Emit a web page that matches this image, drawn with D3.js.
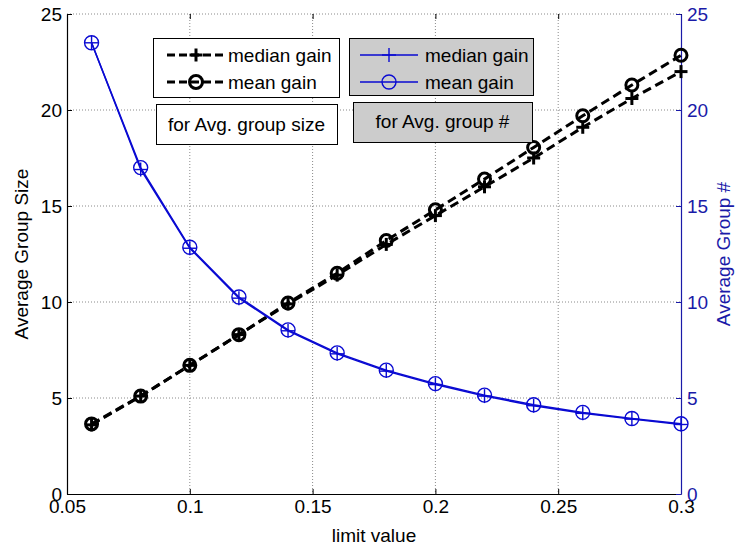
<!DOCTYPE html>
<html>
<head>
<meta charset="utf-8">
<script src="https://cdn.jsdelivr.net/npm/d3@7"></script>
<style>
  html, body { margin: 0; padding: 0; background: #fff; }
  svg text { font-family: "Liberation Sans", Arial, sans-serif; }
</style>
</head>
<body>
<svg id="chart" width="735" height="549"></svg>
<script>
// limit values on the x axis
const limits = [0.06, 0.08, 0.10, 0.12, 0.14, 0.16, 0.18, 0.20, 0.22, 0.24, 0.26, 0.28, 0.30];
// average group size (left axis)
const sizeMedian = [3.6, 5.1, 6.7, 8.3, 9.9, 11.4, 13.0, 14.5, 16.0, 17.5, 19.1, 20.6, 22.0];
const sizeMean   = [3.65, 5.1, 6.7, 8.3, 9.95, 11.5, 13.2, 14.8, 16.4, 18.05, 19.7, 21.3, 22.85];
// average group count (right axis)
const countMedian = [23.5, 16.9, 12.8, 10.2, 8.5, 7.3, 6.4, 5.7, 5.1, 4.6, 4.2, 3.9, 3.62];
const countMean   = [23.5, 17.0, 12.85, 10.26, 8.55, 7.35, 6.45, 5.75, 5.15, 4.65, 4.25, 3.93, 3.66];
// tick labels
const xTicks = [0.05, 0.1, 0.15, 0.2, 0.25, 0.3];
const xTickLabels = ["0.05", "0.1", "0.15", "0.2", "0.25", "0.3"];
const yTicks = [0, 5, 10, 15, 20, 25];
const legendLabels = ["median gain", "mean gain"];
const noteLeft = "for Avg. group size";
const noteRight = "for Avg. group #";

const BLUE = "#0a0ad2";
const AXIS_BLUE = "#1a1aa8";
const FONT = 19;

const svg = d3.select("#chart");
const m = { left: 67, right: 681, top: 14, bottom: 494 };

const x = d3.scaleLinear().domain([0.05, 0.3]).range([m.left, m.right]);
const yL = d3.scaleLinear().domain([0, 25]).range([m.bottom, m.top]);
const yR = d3.scaleLinear().domain([0, 25]).range([m.bottom, m.top]);

// dotted grid
const grid = svg.append("g").attr("stroke", "#8a8a8a").attr("stroke-width", 1)
  .attr("stroke-dasharray", "1,2").attr("fill", "none");
xTicks.filter(t => t > 0.05 && t < 0.3).forEach(t => {
  grid.append("line").attr("x1", x(t)).attr("x2", x(t)).attr("y1", m.top).attr("y2", m.bottom);
});
yTicks.filter(t => t > 0).forEach(t => {
  grid.append("line").attr("x1", m.left).attr("x2", m.right).attr("y1", yL(t)).attr("y2", yL(t));
});

function styleAxis(g, color) {
  g.selectAll("text").attr("font-size", FONT).attr("fill", color)
    .attr("font-family", "Liberation Sans, Arial, sans-serif");
  g.selectAll("line").attr("stroke", color);
  g.select(".domain").attr("stroke", color).attr("stroke-width", 1.2);
}

// bottom axis
const gx = svg.append("g").attr("transform", `translate(0,${m.bottom})`)
  .call(d3.axisBottom(x).tickValues(xTicks).tickFormat((d, i) => xTickLabels[i])
    .tickSize(-5).tickSizeOuter(0).tickPadding(6));
styleAxis(gx, "#000");

// top ticks
const gt = svg.append("g").attr("transform", `translate(0,${m.top})`)
  .call(d3.axisTop(x).tickValues(xTicks).tickFormat("").tickSize(-5).tickSizeOuter(0));
styleAxis(gt, "#000");
gt.select(".domain").remove();

// left axis
const gl = svg.append("g").attr("transform", `translate(${m.left},0)`)
  .call(d3.axisLeft(yL).tickValues(yTicks).tickSize(-5).tickSizeOuter(0).tickPadding(5));
styleAxis(gl, "#000");

// right axis
const gr = svg.append("g").attr("transform", `translate(${m.right},0)`)
  .call(d3.axisRight(yR).tickValues(yTicks).tickSize(-5).tickSizeOuter(0).tickPadding(6));
styleAxis(gr, AXIS_BLUE);

// axis titles
svg.append("text").attr("x", (m.left + m.right) / 2).attr("y", 542)
  .attr("text-anchor", "middle").attr("font-size", FONT).text("limit value");
svg.append("text").attr("transform", `translate(21,${(m.top + m.bottom) / 2}) rotate(-90)`)
  .attr("text-anchor", "middle").attr("dy", "0.35em").attr("font-size", FONT).text("Average Group Size");
svg.append("text").attr("transform", `translate(724,${(m.top + m.bottom) / 2}) rotate(-90)`)
  .attr("text-anchor", "middle").attr("dy", "0.32em").attr("font-size", FONT)
  .attr("fill", AXIS_BLUE).text("Average Group #");

// marker helpers
function plus(g, cx, cy, r, color, w) {
  g.append("line").attr("x1", cx - r).attr("x2", cx + r).attr("y1", cy).attr("y2", cy)
    .attr("stroke", color).attr("stroke-width", w);
  g.append("line").attr("x1", cx).attr("x2", cx).attr("y1", cy - r).attr("y2", cy + r)
    .attr("stroke", color).attr("stroke-width", w);
}
function circle(g, cx, cy, r, color, w) {
  g.append("circle").attr("cx", cx).attr("cy", cy).attr("r", r)
    .attr("fill", "none").attr("stroke", color).attr("stroke-width", w);
}

function series(vals, yScale, color, width, dash, marker, mr, mw) {
  const g = svg.append("g");
  const pts = limits.map((l, i) => [x(l), yScale(vals[i])]);
  g.append("path").attr("d", d3.line()(pts)).attr("fill", "none")
    .attr("stroke", color).attr("stroke-width", width)
    .attr("stroke-dasharray", dash || null);
  pts.forEach(p => marker(g, p[0], p[1], mr, color, mw));
}

// black: average group size
series(sizeMedian, yL, "#000", 3, "9,5", plus, 6.5, 3);
series(sizeMean, yL, "#000", 3, "9,5", circle, 6, 3);
// blue: average group count
series(countMedian, yR, BLUE, 1.5, null, plus, 7, 1.4);
series(countMean, yR, BLUE, 1.5, null, circle, 7, 1.4);

// legends
function box(x0, y0, w, h, fill) {
  svg.append("rect").attr("x", x0 + 0.5).attr("y", y0 + 0.5).attr("width", w).attr("height", h)
    .attr("fill", fill).attr("stroke", "#000").attr("stroke-width", 1);
}
const rows = [55, 82];

box(153, 38, 186, 59, "#fff");
const lg1 = svg.append("g");
rows.forEach((ry, i) => {
  lg1.append("line").attr("x1", 167).attr("x2", 225).attr("y1", ry).attr("y2", ry)
    .attr("stroke", "#000").attr("stroke-width", 3).attr("stroke-dasharray", "8,4");
  (i === 0 ? plus : circle)(lg1, 196, ry, 6.5, "#000", 3);
  lg1.append("text").attr("x", 228).attr("y", ry).attr("dy", "0.35em")
    .attr("font-size", FONT).text(legendLabels[i]);
});

box(349, 38, 184, 57, "#cccccc");
const lg2 = svg.append("g");
rows.forEach((ry, i) => {
  lg2.append("line").attr("x1", 360).attr("x2", 418).attr("y1", ry).attr("y2", ry)
    .attr("stroke", BLUE).attr("stroke-width", 1.4);
  (i === 0 ? plus : circle)(lg2, 389, ry, 7, BLUE, 1.4);
  lg2.append("text").attr("x", 425).attr("y", ry).attr("dy", "0.35em")
    .attr("font-size", FONT).text(legendLabels[i]);
});

box(156, 104, 181, 40, "#fff");
svg.append("text").attr("x", 246.5).attr("y", 124).attr("dy", "0.35em")
  .attr("text-anchor", "middle").attr("font-size", FONT).text(noteLeft);

box(353, 102, 179, 40, "#cccccc");
svg.append("text").attr("x", 442.5).attr("y", 121).attr("dy", "0.35em")
  .attr("text-anchor", "middle").attr("font-size", FONT).text(noteRight);
</script>
</body>
</html>
